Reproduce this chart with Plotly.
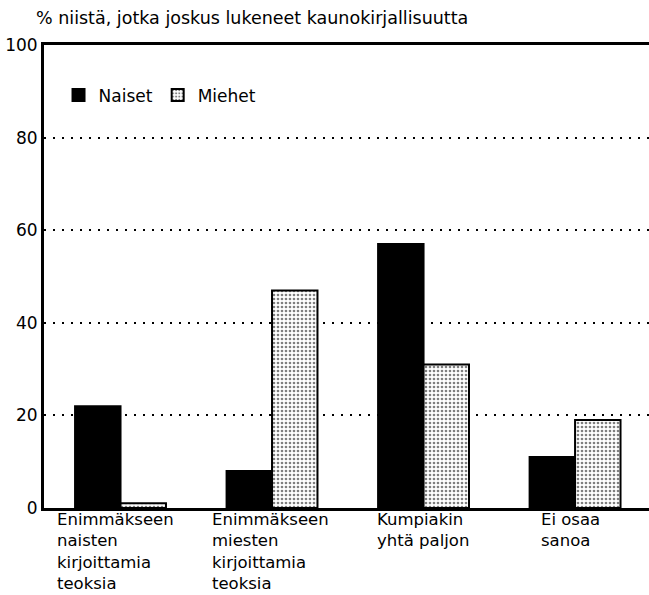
import plotly.graph_objects as go

categories = ["Enimmäkseen naisten kirjoittamia teoksia",
              "Enimmäkseen miesten kirjoittamia teoksia",
              "Kumpiakin yhtä paljon",
              "Ei osaa sanoa"]
category_labels = ["Enimmäkseen<br>naisten<br>kirjoittamia<br>teoksia",
                   "Enimmäkseen<br>miesten<br>kirjoittamia<br>teoksia",
                   "Kumpiakin<br>yhtä paljon",
                   "Ei osaa<br>sanoa"]
naiset = [22, 8, 57, 11]
miehet = [1, 47, 31, 19]
y_ticks = [0, 20, 40, 60, 80, 100]
title_text = "% niistä, jotka joskus lukeneet kaunokirjallisuutta"

FONT = "DejaVu Sans, sans-serif"

fig = go.Figure()
fig.add_trace(go.Bar(
    x=list(range(len(categories))), y=naiset, name="Naiset",
    marker=dict(color="black", line=dict(color="black", width=2)),
))
fig.add_trace(go.Bar(
    x=list(range(len(categories))), y=miehet, name="Miehet",
    marker=dict(color="white", line=dict(color="black", width=2),
                pattern=dict(shape=".", fgcolor="black", bgcolor="white",
                             size=4, solidity=0.35)),
))

label_x = [-0.43, 0.591, 1.68, 2.762]
for lx, lab in zip(label_x, category_labels):
    fig.add_annotation(x=lx, xref="x", y=0, yref="paper", yanchor="top",
                       xanchor="left", align="left", text=lab, showarrow=False,
                       yshift=0, font=dict(family=FONT, size=16.5, color="black"))

fig.add_annotation(x=-0.0167, xref="paper", xanchor="left", y=1, yref="paper",
                   yanchor="bottom", yshift=15, text=title_text, showarrow=False,
                   font=dict(family=FONT, size=17.5, color="black"))

fig.update_layout(
    width=649, height=595,
    margin=dict(l=44, r=0, t=45, b=87, autoexpand=False),
    paper_bgcolor="white", plot_bgcolor="white",
    barmode="group", bargap=0.4, bargroupgap=0,
    showlegend=True,
    legend=dict(orientation="h", x=0.024, y=0.93, xanchor="left", yanchor="top",
                font=dict(family=FONT, size=17, color="black"),
                bgcolor="rgba(0,0,0,0)", itemsizing="constant",
                tracegroupgap=0, itemwidth=30),
    font=dict(family=FONT, color="black"),
)
fig.update_xaxes(range=[-0.505, 3.488], showticklabels=False, ticks="",
                 showgrid=False, showline=True, linecolor="black", linewidth=3,
                 mirror=True, zeroline=False, automargin=False)
fig.update_yaxes(range=[0, 100], tickvals=y_ticks, ticktext=[str(v) for v in y_ticks],
                 showgrid=True, gridcolor="black", gridwidth=2, griddash="2px,7px",
                 showline=True, linecolor="black", linewidth=3, mirror=False,
                 ticks="", zeroline=False, automargin=False,
                 tickfont=dict(family=FONT, size=17, color="black"))

fig.write_html("out.html",
               config={"displayModeBar": False},
               post_script="document.body.style.margin='0';document.body.style.padding='0';")
